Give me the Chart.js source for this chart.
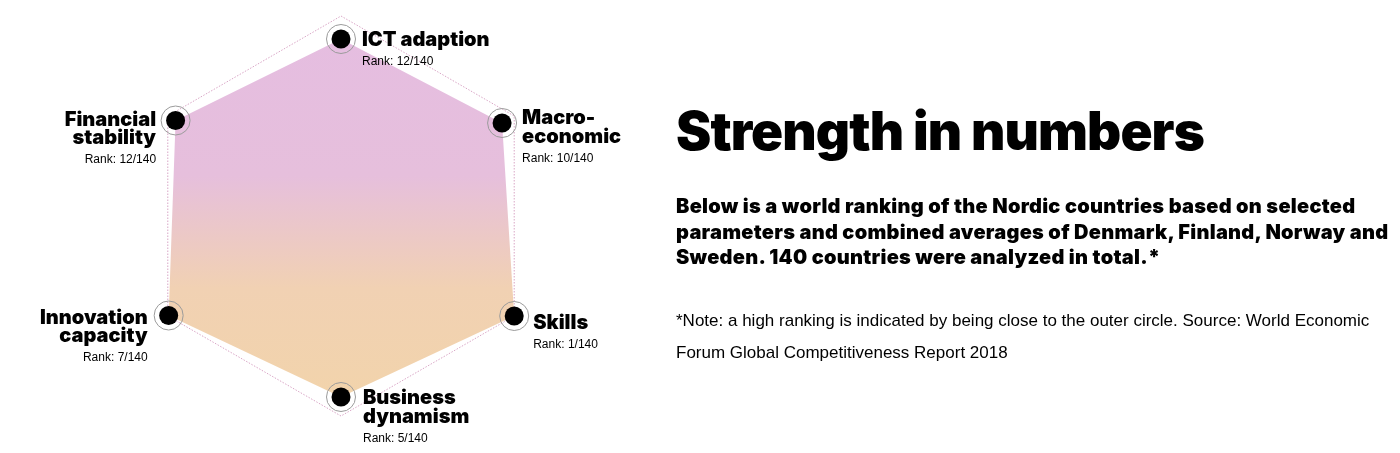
<!DOCTYPE html>
<html>
<head>
<meta charset="utf-8">
<script src="https://cdn.jsdelivr.net/npm/chart.js@4"></script>
<style>
    html, body { margin: 0; padding: 0; background: #fff; }
    #wrap { position: relative; width: 1400px; height: 453px; overflow: hidden; }
    #chartBox { position: absolute; left: 0; top: 0; width: 1400px; height: 453px; }
    #tekst { position: absolute; left: 676px; top: 100px; width: 724px; color: #000; white-space: nowrap; }
    #tekst h1 {
        margin: 0; font-family: Inter, "Open Sans", sans-serif; font-weight: 900;
        font-size: 53px; line-height: 62px; letter-spacing: -0.9px;
    }
    #tekst .intro {
        margin: 32px 0 0 0; font-family: Inter, "Open Sans", sans-serif; font-weight: 900;
        font-size: 20px; line-height: 25.5px; letter-spacing: 0.27px;
    }
    #tekst .noot {
        margin: 34px 0 0 0; font-family: "Liberation Sans", Arial, sans-serif;
        font-size: 17px; line-height: 32px;
    }
</style>
</head>
<body>
<div id="wrap">
    <div id="chartBox"><canvas id="radar"></canvas></div>
    <div id="tekst">
        <h1>Strength in numbers</h1>
        <p class="intro">Below is a world ranking of the Nordic countries based on selected<br>parameters and combined averages of Denmark, Finland, Norway and<br>Sweden. 140 countries were analyzed in total.*</p>
        <p class="noot">*Note: a high ranking is indicated by being close to the outer circle. Source: World Economic<br>Forum Global Competitiveness Report 2018</p>
    </div>
</div>
<script>
// ===============================
// Data
// ===============================
const categories = [
    ["ICT adaption"],
    ["Macro-", "economic"],
    ["Skills"],
    ["Business", "dynamism"],
    ["Innovation", "capacity"],
    ["Financial", "stability"]
];
const ranks = [12, 10, 1, 5, 7, 12];
const totalCountries = 140;
// distance from the centre, in % of the outer ring
const placement = [88.5, 93, 100, 90.5, 99.5, 95.5];

// ===============================
// Label layout (style only)
// ===============================
const labelLayout = [
    { dx: 21, dy: 1, align: "left" },
    { dx: 20, dy: -5, align: "left" },
    { dx: 19, dy: 7, align: "left" },
    { dx: 22, dy: 1, align: "left" },
    { dx: -21, dy: 2, align: "right" },
    { dx: -19.5, dy: -1, align: "right" }
];

// Labels + rank text next to each point
const puntLabels = {
    id: "puntLabels",
    afterDatasetsDraw(chart) {
        const scale = chart.scales.r;
        const ctx = chart.ctx;
        ctx.save();
        ctx.fillStyle = "#000";
        ctx.textBaseline = "middle";
        categories.forEach((regels, i) => {
            const pos = scale.getPointPosition(i, scale.getDistanceFromCenterForValue(placement[i]));
            const lay = labelLayout[i];
            const x = pos.x + lay.dx;
            let y = pos.y + lay.dy;
            ctx.textAlign = lay.align;
            ctx.font = "900 20px Inter, 'Open Sans', sans-serif";
            regels.forEach((regel, j) => {
                ctx.fillText(regel, x, y + j * 18.5);
            });
            ctx.font = "12px 'Liberation Sans', Arial, sans-serif";
            ctx.fillText("Rank: " + ranks[i] + "/" + totalCountries, x, y + (regels.length - 1) * 18.5 + 22);
        });
        ctx.restore();
    }
};

function maakVerloop(context) {
    const chart = context.chart;
    const area = chart.chartArea;
    if (!area) return "#e6bee0";
    const g = chart.ctx.createLinearGradient(0, area.top, 0, area.bottom);
    g.addColorStop(0, "#e5bde1");
    g.addColorStop(0.40, "#e6bfdc");
    g.addColorStop(0.68, "#f1d1b3");
    g.addColorStop(1, "#f2d4aa");
    return g;
}

new Chart(document.getElementById("radar"), {
    type: "radar",
    data: {
        labels: categories,
        datasets: [
            {
                data: placement,
                order: 3,
                backgroundColor: maakVerloop,
                borderWidth: 0,
                fill: true,
                pointRadius: 0
            },
            {
                data: placement,
                order: 2,
                showLine: false,
                fill: false,
                pointRadius: 14.5,
                pointBackgroundColor: "rgba(0,0,0,0)",
                pointBorderColor: "#9b9b9b",
                pointBorderWidth: 1
            },
            {
                data: placement,
                order: 1,
                showLine: false,
                fill: false,
                pointRadius: 9.5,
                pointBackgroundColor: "#000",
                pointBorderWidth: 0
            }
        ]
    },
    options: {
        responsive: true,
        maintainAspectRatio: false,
        animation: false,
        layout: { padding: { left: 141, right: 859, top: 16, bottom: 37 } },
        plugins: {
            legend: { display: false },
            tooltip: { enabled: false }
        },
        scales: {
            r: {
                min: 0,
                max: 100,
                ticks: { display: false, stepSize: 100 },
                pointLabels: { display: false },
                angleLines: { display: false },
                grid: {
                    color: "#d9a6c6",
                    lineWidth: 1
                },
                border: { dash: [1.5, 1.5] }
            }
        }
    },
    plugins: [puntLabels]
});
</script>
</body>
</html>
